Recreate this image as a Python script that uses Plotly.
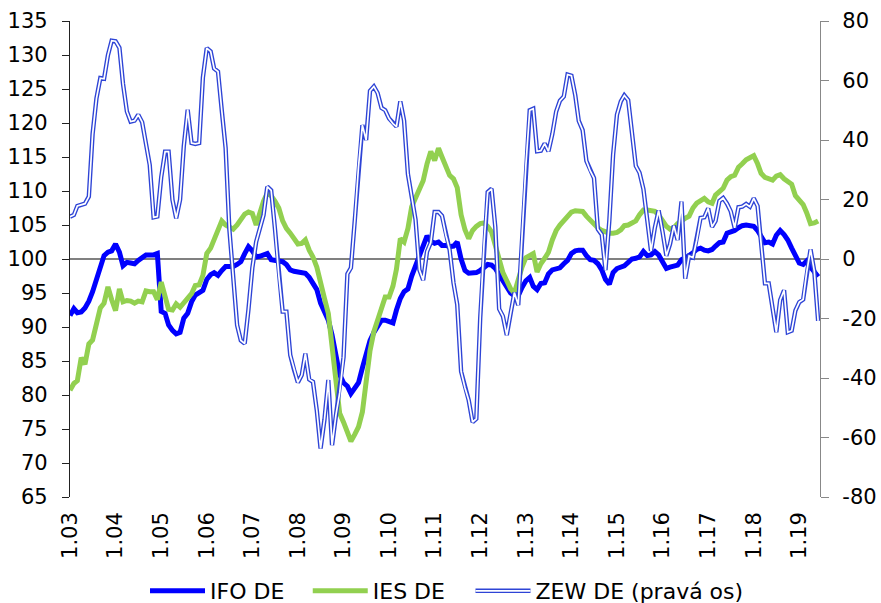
import pandas as pd
import plotly.graph_objects as go

# ---------------- data ----------------
months = pd.date_range("2003-01-01", "2019-06-01", freq="MS")

year_ticks = ["2003-01-01", "2004-01-01", "2005-01-01", "2006-01-01", "2007-01-01",
              "2008-01-01", "2009-01-01", "2010-01-01", "2011-01-01", "2012-01-01",
              "2013-01-01", "2014-01-01", "2015-01-01", "2016-01-01", "2017-01-01",
              "2018-01-01", "2019-01-01"]
tick_labels = ["1.03", "1.04", "1.05", "1.06", "1.07", "1.08", "1.09", "1.10", "1.11",
               "1.12", "1.13", "1.14", "1.15", "1.16", "1.17", "1.18", "1.19"]
right_ticks = [-80, -60, -40, -20, 0, 20, 40, 60, 80]
right_labels = ["-80", "-60", "-40", "-20", "0", "20", "40", "60", "80"]

ifo_de = [
    91.7, 92.7, 92.1, 92.2, 92.8, 93.8, 95.2, 97.0, 98.5, 100.5, 101.0, 101.2,
    102.2, 101.0, 99.0, 99.5, 99.4, 99.3, 99.8, 100.3, 100.6, 100.6, 100.6, 100.8,
    92.3, 92.0, 90.3, 89.5, 89.0, 89.2, 91.3, 92.0, 93.7, 94.7, 95.1, 95.4,
    97.0, 97.7, 98.0, 97.6, 98.3, 98.9, 98.9, 98.9, 99.2, 99.6, 100.8, 101.8,
    101.2, 100.3, 100.4, 100.7, 100.8, 99.9, 99.8, 99.6, 99.6, 99.2, 98.4, 98.2,
    98.1, 98.0, 97.9, 97.3, 96.5, 95.5, 93.5, 92.0, 91.0, 88.8, 86.0, 83.0,
    81.8, 81.3, 80.2, 81.0, 81.8, 84.0, 86.0, 88.0, 89.2, 90.0, 91.0, 91.0,
    90.8, 90.6, 92.5, 94.2, 95.2, 95.6, 97.5, 99.0, 100.2, 102.0, 103.4, 102.6,
    102.3, 102.5, 102.0, 102.0, 101.8, 101.9, 102.5, 100.0, 98.3, 97.9, 97.9, 98.0,
    98.3, 98.8, 99.2, 99.1, 98.6, 97.7, 96.7, 95.8, 95.0, 94.6, 94.6, 95.8,
    96.8, 97.3, 96.0, 95.5, 96.4, 96.5, 97.8, 98.4, 98.6, 98.7, 99.3, 99.8,
    100.8, 101.2, 101.3, 101.3, 100.5, 99.9, 99.8, 99.3, 98.4, 97.0, 96.3, 98.0,
    98.6, 98.8, 99.0, 99.5, 100.0, 100.1, 100.3, 101.1, 100.5, 100.6, 101.1, 100.6,
    99.7, 98.6, 98.8, 99.0, 99.1, 99.9, 100.3, 100.5, 100.9, 101.4, 101.6, 101.3,
    101.2, 101.4, 101.9, 102.4, 102.5, 103.8, 104.0, 104.2, 104.6, 104.9, 105.0, 104.9,
    104.8, 104.2, 103.2, 102.4, 102.5, 102.2, 103.5, 104.2, 103.6, 102.8, 101.6, 100.4,
    99.4, 99.2, 99.7, 98.8, 98.0, 97.4,
]

ies_de = [
    80.7, 81.7, 82.1, 85.5, 84.5, 87.5, 88.1, 90.5, 92.8, 93.5, 95.9, 94.0,
    92.4, 95.6, 93.7, 93.9, 93.8, 93.5, 93.8, 93.7, 95.3, 95.2, 95.2, 94.0,
    96.6, 94.5, 92.6, 92.5, 93.4, 92.9, 93.5, 94.2, 94.9, 96.1, 96.2, 97.6,
    100.8, 101.6, 103.0, 104.5, 105.6, 105.0, 104.6, 104.4, 105.0, 105.8, 106.6, 106.9,
    106.7, 105.0, 107.0, 108.5, 109.7, 109.3, 108.5, 107.5, 105.6, 104.5, 103.8, 103.0,
    102.2, 102.3, 102.8, 101.3, 100.3, 98.8, 96.3, 94.2, 92.0, 87.3, 82.0, 77.3,
    76.0, 74.5, 73.2, 74.2, 75.3, 77.5, 82.5, 86.5, 89.3, 91.0, 93.0, 94.4,
    94.4, 96.0, 98.5, 103.0, 102.5, 104.5, 107.7, 109.0, 110.0, 111.5, 114.0, 115.8,
    114.5, 116.3, 115.0, 113.6, 112.3, 111.8, 110.5, 106.5, 104.3, 103.0, 104.2, 104.8,
    105.2, 105.3, 104.8, 104.0, 102.0, 100.0, 98.0, 96.8, 95.6, 95.0, 97.3, 98.8,
    100.2, 100.6, 100.8, 98.1, 99.3, 100.1, 101.0, 102.8, 104.2, 105.0, 105.7, 106.2,
    106.9, 107.1, 107.0, 107.0, 106.3, 105.7, 105.2, 104.6, 104.2, 104.0, 103.8, 103.8,
    103.9, 104.3, 104.9, 105.0, 105.3, 105.6, 106.5, 107.2, 107.2, 107.1, 107.0, 106.5,
    105.6, 104.8, 104.4, 104.6, 105.2, 105.7, 106.0, 106.3, 107.5, 108.2, 108.6, 108.9,
    108.4, 108.2, 109.4, 109.8, 110.4, 111.6, 112.1, 112.3, 113.5, 114.0, 114.6, 114.9,
    115.2, 114.0, 112.6, 112.0, 111.8, 111.6, 112.2, 112.4, 111.8, 111.3, 111.0, 109.3,
    108.7, 108.0, 106.8, 105.2, 105.3, 105.6,
]

zew_de = [
    14.2, 14.8, 17.8, 18.3, 18.6, 21.0, 42.0, 54.0, 60.8, 60.6, 68.5, 73.4,
    73.2, 71.0, 58.8, 49.6, 46.2, 46.5, 48.5, 46.0, 39.3, 31.6, 14.0, 14.3,
    27.5, 36.1, 36.1, 19.9, 13.7, 19.9, 38.0, 50.2, 39.0, 38.7, 39.0, 61.0,
    70.9, 69.8, 64.0, 63.0, 50.0, 37.3, 10.0, -5.6, -22.2, -27.4, -28.4, -17.0,
    -3.0, 5.8, 10.5, 14.8, 24.3, 23.1, 10.3, -5.4, -17.7, -17.7, -32.3, -37.2,
    -41.5, -39.0, -31.8, -40.5, -41.3, -51.0, -63.7, -54.0, -40.7, -62.6, -52.5, -45.0,
    -33.0, -5.0, -3.0, 13.0, 31.1, 45.0, 40.0, 56.5, 58.0, 55.8, 50.8, 50.0,
    47.2, 45.5, 44.5, 53.0, 46.5, 28.5, 20.8, 13.2, -3.6, -7.1, 2.5, 5.5,
    15.8, 15.8, 14.5, 8.0, 3.1, -8.0, -15.3, -37.8, -43.3, -47.5, -54.8, -53.7,
    -20.0, 5.4, 22.5, 23.6, 10.8, -16.8, -19.2, -25.6, -18.2, -11.3, -15.5, 6.9,
    31.5, 50.0, 50.5, 36.2, 36.4, 38.8, 36.2, 42.0, 49.6, 53.2, 54.6, 62.0,
    61.6, 55.0, 46.4, 43.3, 33.0, 29.6, 27.2, 10.0, 8.2, -3.7, 13.0, 35.0,
    48.5, 53.0, 55.0, 53.4, 42.4, 31.3, 29.0, 23.5, 13.0, 2.7, 10.6, 16.3,
    9.2, 1.1, 5.0, 11.2, 6.4, 19.3, -6.6, 1.0, 0.5, 6.3, 13.8, 14.0,
    17.0, 10.8, 12.8, 19.5, 20.5, 18.6, 16.0, 10.5, 17.4, 17.6, 18.5, 17.6,
    20.4, 17.8, 5.1, -8.2, -8.2, -17.0, -24.6, -13.8, -10.5, -24.6, -24.1, -17.3,
    -14.5, -13.6, -4.5, 3.2, -4.0, -20.8,
]

# ---------------- styling ----------------
FONT = "DejaVu Sans, Verdana, sans-serif"
IFO_COLOR = "#0000FF"
IES_COLOR = "#92D050"
ZEW_COLOR = "#2E44D6"
X_RANGE = ["2003-01-01", "2019-06-16"]
LEG_Y = 0.0199      # container coords (centre of legend row)
LEG_FONT = 22
TICK_FONT = 21

fig = go.Figure()
fig.add_trace(go.Scatter(x=months, y=ifo_de, name="IFO DE", mode="lines",
                         line=dict(color=IFO_COLOR, width=5), yaxis="y", legend="legend"))
fig.add_trace(go.Scatter(x=months, y=ies_de, name="IES DE", mode="lines",
                         line=dict(color=IES_COLOR, width=5), yaxis="y", legend="legend2"))
fig.add_trace(go.Scatter(x=months, y=zew_de, name="ZEW DE (pravá os)", mode="lines",
                         line=dict(color=ZEW_COLOR, width=4.4), yaxis="y2",
                         legend="legend3"))
fig.add_trace(go.Scatter(x=months, y=zew_de, name=" ", mode="lines",
                         line=dict(color="white", width=1.7), yaxis="y2",
                         legend="legend4", hoverinfo="skip"))


def leg(x):
    return dict(x=x, xanchor="left", y=LEG_Y, yref="container", yanchor="middle",
                orientation="h", font=dict(size=LEG_FONT), bgcolor="rgba(0,0,0,0)",
                itemwidth=55)


fig.update_layout(
    width=881, height=603,
    margin=dict(l=70, r=61, t=21, b=106),
    paper_bgcolor="white", plot_bgcolor="white",
    font=dict(family=FONT, size=20, color="black"),
    showlegend=True,
    legend=leg(0.1), legend2=leg(0.317), legend3=leg(0.534), legend4=leg(0.534),
    xaxis=dict(type="date", range=X_RANGE, tickvals=year_ticks, ticktext=tick_labels,
               tickangle=-90, ticks="", showline=False, showgrid=False, zeroline=False,
               tickfont=dict(size=TICK_FONT), ticklabelstandoff=10, automargin=False),
    xaxis2=dict(type="date", overlaying="x", anchor="free", position=0.5, range=X_RANGE,
                tickvals=year_ticks, showticklabels=False, ticks="outside", ticklen=7,
                tickcolor="#333333", tickwidth=1.2, showline=False, showgrid=False,
                zeroline=False, automargin=False),
    xaxis3=dict(type="date", overlaying="x", anchor="free", position=0.5, side="top",
                range=X_RANGE, tickvals=year_ticks, showticklabels=False, ticks="outside",
                ticklen=7, tickcolor="#333333", tickwidth=1.2, showline=False,
                showgrid=False, zeroline=False, automargin=False),
    yaxis=dict(range=[65, 135], dtick=5, tick0=65, ticks="outside", ticklen=7,
               tickcolor="#222222", tickwidth=1.2, showline=True, linecolor="#222222",
               linewidth=1.3, showgrid=False, zeroline=False, tickfont=dict(size=TICK_FONT),
               ticklabelstandoff=10, automargin=False),
    yaxis2=dict(range=[-80, 80], tickvals=right_ticks, ticktext=right_labels,
                overlaying="y", side="right",
                anchor="x", ticks="outside", ticklen=8, tickcolor="#888888", tickwidth=1.2,
                showline=True, linecolor="#888888", linewidth=1.3, showgrid=False,
                zeroline=True, zerolinecolor="#808080", zerolinewidth=1.5,
                tickfont=dict(size=TICK_FONT), ticklabelstandoff=9, automargin=False),
    yaxis3=dict(range=[65, 135], dtick=5, tick0=65, overlaying="y", side="left",
                anchor="x", ticks="inside", ticklen=7, tickcolor="#222222", tickwidth=1.2,
                showticklabels=False, showline=False, showgrid=False, zeroline=False,
                automargin=False),
)

fig.write_html("out.html", config={"displayModeBar": False},
               post_script="document.body.style.margin='0';"
                           "document.body.style.overflow='hidden';")
